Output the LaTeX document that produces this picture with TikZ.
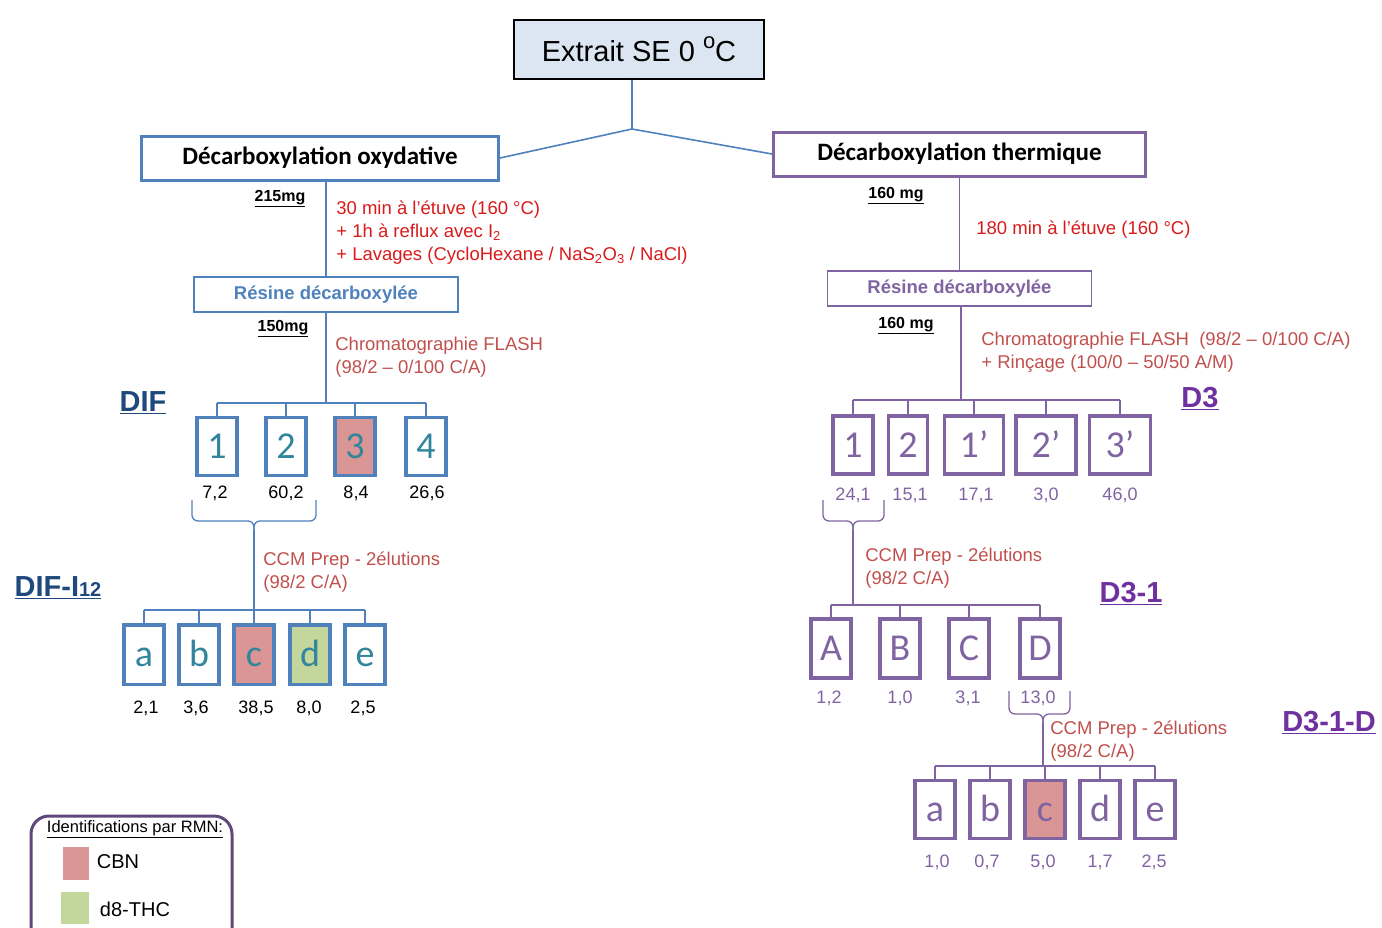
\documentclass[tikz,border=0pt]{standalone}
\usepackage{fontspec}
\setmainfont{Liberation Sans}
\newfontfamily\calib{Carlito}

\definecolor{bleu}{HTML}{4F81BD}
\definecolor{violet}{HTML}{8064A2}
\definecolor{bleufonce}{HTML}{1F497D}
\definecolor{violetfonce}{HTML}{7030A0}
\definecolor{sarcelle}{HTML}{31859C}
\definecolor{rose}{HTML}{D99694}
\definecolor{vert}{HTML}{C3D69B}
\definecolor{rouge}{HTML}{D91A1A}
\definecolor{brique}{HTML}{C0504D}
\definecolor{ciel}{HTML}{DCE6F2}
\definecolor{prune}{HTML}{5F497A}

\newcommand{\fs}[1]{\fontsize{#1}{#1}\selectfont}

\tikzset{
  every picture/.style={line width=0.75pt},
  titre/.style={draw, line width=3pt, minimum height=44pt, inner sep=0pt,
    font=\calib\bfseries\fs{25}},
  resine/.style={draw, line width=1.6pt, minimum width=264pt, minimum height=35pt,
    inner sep=0pt, font=\bfseries\fs{18.5}},
  frac/.style={draw, line width=3.5pt, minimum width=40pt, minimum height=58pt,
    inner sep=0pt, text height=24pt, text depth=0pt, font=\calib\fs{38}},
  val/.style={inner sep=0pt, font=\fs{18}},
  masse/.style={inner sep=0pt, font=\bfseries\fs{16}},
  proto/.style={anchor=north west, align=left, inner sep=0pt,
    font=\fontsize{18.5}{23}\selectfont},
  etiq/.style={inner sep=0pt, font=\bfseries\fs{29}},
  trait/.style={line width=1.6pt},
  accolade/.style={line width=1.3pt, rounded corners=6pt},
}

\begin{document}
\begin{tikzpicture}[x=1pt,y=-1pt]
  \useasboundingbox (0,0) rectangle (1382,927);

  % --- Extrait de depart ---
  \node[draw, fill=ciel, line width=1.6pt, minimum width=250pt, minimum height=59pt,
    inner sep=0pt, font=\fs{29}] (extrait) at (639,49.5)
    {Extrait SE 0 \raisebox{13pt}{\fs{22}o}C};
  \coordinate (fourche) at (632,129);
  \node[titre, draw=bleu, minimum width=357pt] (oxy) at (320,158) {Décarboxylation oxydative};
  \node[titre, draw=violet, minimum width=372pt] (therm) at (959.5,154) {Décarboxylation thermique};
  \draw[trait, bleu] (extrait.south -| fourche) -- (fourche) -- (oxy.east);
  \draw[trait, bleu] (fourche) -- (therm.west);

  % --- Decarboxylation oxydative ---
  \begin{scope}[bleu]
    \node[resine, text=bleu] (res1) at (326,294.5) {Résine décarboxylée};
    \draw[trait] (res1.north |- oxy.south) -- (res1.north);
    \node[masse, text=black] (m1) at (280,199) {\underline{215mg}};
    \node[proto, text=rouge] (op1) at (336,200)
      {30 min à l’étuve (160 °C)\\+ 1h à reflux avec I\textsubscript{2}\\
       + Lavages (CycloHexane / NaS\textsubscript{2}O\textsubscript{3} / NaCl)};
    \node[masse, text=black] (m2) at (283,329) {\underline{150mg}};
    \node[proto, text=brique] (op2) at (335,337) {Chromatographie FLASH\\(98/2 – 0/100 C/A)};
    \node[etiq, text=bleufonce] (dif) at (143,403) {\underline{DIF}};

    \coordinate (bus1) at (326,403);
    \foreach \x/\t/\f [count=\i] in {217/1/white,286/2/white,355/3/rose,426/4/white}
      \node[frac, fill=\f, text=sarcelle] (dif\i) at (\x,446.5) {\t};
    \draw[trait] (res1.south) -- (bus1);
    \draw[trait] (dif1.north |- bus1) -- (dif4.north |- bus1);
    \foreach \i in {1,...,4}
      \draw[trait] (dif\i.north |- bus1) -- (dif\i.north);
    \foreach \x/\v [count=\i] in {215/{7,2},286/{60,2},356/{8,4},427/{26,6}}
      \node[val, text=black] (vdif\i) at (\x,493) {\v};

    % accolade 1+2
    \coordinate (bus2) at (254,610);
    \draw[accolade] (192,500) |- (254,521) -- (254,534);
    \draw[accolade] (316,500) |- (254,521) -- (254,534);
    \draw[trait] (254,530) -- (bus2);
    \node[proto, text=brique] (op3) at (263,551) {CCM Prep - 2élutions\\(98/2 C/A)};
    \node[etiq, text=bleufonce] (difi) at (58,588) {\underline{DIF-I{\fs{20}12}}};

    \foreach \x/\t/\f [count=\i] in {144/a/white,199/b/white,254/c/rose,310/d/vert,365/e/white}
      \node[frac, fill=\f, text=sarcelle, minimum height=59.5pt] (fi\i) at (\x,654.5) {\t};
    \draw[trait] (fi1.north |- bus2) -- (fi5.north |- bus2);
    \foreach \i in {1,...,5}
      \draw[trait] (fi\i.north |- bus2) -- (fi\i.north);
    \foreach \x/\v [count=\i] in {146/{2,1},196/{3,6},256/{38,5},309/{8,0},363/{2,5}}
      \node[val, text=black] (vfi\i) at (\x,708) {\v};
  \end{scope}

  % --- Decarboxylation thermique ---
  \begin{scope}[violet]
    \node[resine, text=violet] (res2) at (959.5,288.5) {Résine décarboxylée};
    \draw[trait] (therm.south) -- (res2.north);
    \node[masse, text=black] (m3) at (896,196) {\underline{160 mg}};
    \node[proto, text=rouge] (op4) at (976,220) {180 min à l’étuve (160 °C)};
    \node[masse, text=black] (m4) at (906,326) {\underline{160 mg}};
    \node[proto, text=brique] (op5) at (981,332)
      {Chromatographie FLASH~~(98/2 – 0/100 C/A)\\+ Rinçage (100/0 – 50/50 A/M)};
    \node[etiq, text=violetfonce] (d3) at (1200,399) {\underline{D3}};

    \coordinate (bus3) at (961,400);
    \foreach \x/\t/\w [count=\i] in {853/1/40pt,908/2/39pt,974/1’/59pt,1046/2’/60pt,1120/3’/61pt}
      \node[frac, text=violet, minimum width=\w] (dt\i) at (\x,445) {\t};
    \draw[trait] (res2.south -| bus3) -- (bus3);
    \draw[trait] (dt1.north |- bus3) -- (dt5.north |- bus3);
    \foreach \i in {1,...,5}
      \draw[trait] (dt\i.north |- bus3) -- (dt\i.north);
    \foreach \x/\v [count=\i] in {853/{24,1},910/{15,1},976/{17,1},1046/{3,0},1120/{46,0}}
      \node[val] (vdt\i) at (\x,495) {\v};

    % accolade 1
    \coordinate (bus4) at (853,605);
    \draw[accolade] (823,500) |- (853,521) -- (853,534);
    \draw[accolade] (884,500) |- (853,521) -- (853,534);
    \draw[trait] (853,530) -- (bus4);
    \node[proto, text=brique] (op6) at (865,547) {CCM Prep - 2élutions\\(98/2 C/A)};
    \node[etiq, text=violetfonce] (d31) at (1131,594) {\underline{D3-1}};

    \foreach \x/\t [count=\i] in {831/A,900/B,969/C,1040/D}
      \node[frac, text=violet, minimum height=59pt] (da\i) at (\x,648.5) {\t};
    \draw[trait] (da1.north |- bus4) -- (da4.north |- bus4);
    \foreach \i in {1,...,4}
      \draw[trait] (da\i.north |- bus4) -- (da\i.north);
    \foreach \x/\v [count=\i] in {829/{1,2},900/{1,0},968/{3,1},1038/{13,0}}
      \node[val] (vda\i) at (\x,698) {\v};

    % accolade D
    \coordinate (bus5) at (1043,766);
    \draw[accolade] (1009,691) |- (1043,714) -- (1043,727);
    \draw[accolade] (1070,691) |- (1043,714) -- (1043,727);
    \draw[trait] (1043,723) -- (bus5);
    \node[proto, text=brique] (op7) at (1050,720) {CCM Prep - 2élutions\\(98/2 C/A)};
    \node[etiq, text=violetfonce] (d31d) at (1329,723) {\underline{D3-1-D}};

    \foreach \x/\t/\f [count=\i] in {935/a/white,990/b/white,1045/c/rose,1100/d/white,1155/e/white}
      \node[frac, fill=\f, text=violet] (dd\i) at (\x,809.5) {\t};
    \draw[trait] (dd1.north |- bus5) -- (dd5.north |- bus5);
    \foreach \i in {1,...,5}
      \draw[trait] (dd\i.north |- bus5) -- (dd\i.north);
    \foreach \x/\v [count=\i] in {937/{1,0},987/{0,7},1043/{5,0},1100/{1,7},1154/{2,5}}
      \node[val] (vdd\i) at (\x,862) {\v};
  \end{scope}

  % --- Legende ---
  \draw[prune, line width=3pt, rounded corners=18pt] (31,816) rectangle (232,950);
  \node[inner sep=0pt, font=\fs{16.5}] (leg) at (135,829) {\underline{Identifications par RMN:}};
  \node[fill=rose, minimum width=26pt, minimum height=33pt, inner sep=0pt] (cle1) at (76,863.5) {};
  \node[inner sep=0pt, font=\fs{20}] (cbn) at (118,862) {CBN};
  \node[fill=vert, minimum width=28pt, minimum height=32pt, inner sep=0pt] (cle2) at (75,908) {};
  \node[inner sep=0pt, font=\fs{20}] (thc) at (135,909) {d8-THC};
\end{tikzpicture}
\end{document}
